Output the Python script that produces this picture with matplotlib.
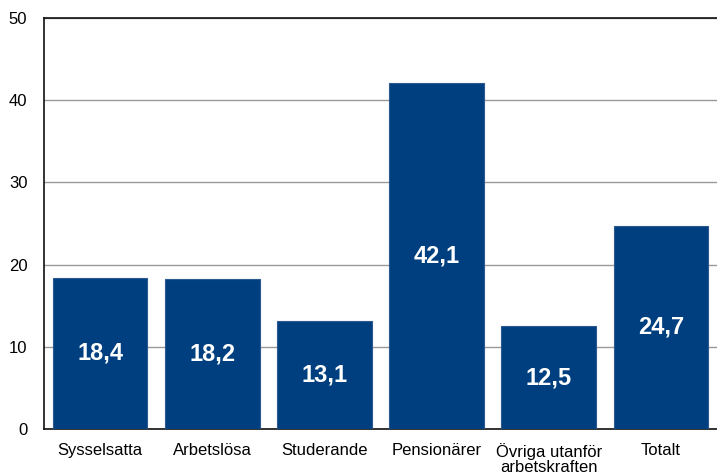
import matplotlib
matplotlib.use('Agg')
import matplotlib.pyplot as plt
import numpy as np

categories = ['Sysselsatta', 'Arbetslösa', 'Studerande', 'Pensionärer',
              'Övriga utanför\narbetskraften', 'Totalt']
values = [18.4, 18.2, 13.1, 42.1, 12.5, 24.7]
labels = ['18,4', '18,2', '13,1', '42,1', '12,5', '24,7']

plt.rcParams['font.family'] = ['Liberation Sans', 'DejaVu Sans']

fig = plt.figure(figsize=(7.17, 4.76), dpi=100)
ax = fig.add_axes([44 / 717, 47 / 476, 673 / 717, 411 / 476])

x = np.arange(len(categories))
bars = ax.bar(x, values, width=0.845, color='#003f7f', edgecolor='#2a5a90',
              linewidth=0.8, zorder=3)

for b, lab in zip(bars, labels):
    ax.text(b.get_x() + b.get_width() / 2, b.get_height() / 2, lab,
            ha='center', va='center', color='white', fontsize=17,
            fontweight='bold', zorder=4)

ax.set_xlim(-0.5, 5.5)
ax.set_ylim(0, 50)
ax.set_yticks([0, 10, 20, 30, 40, 50])
ax.set_xticks(x)
ax.set_xticklabels(categories, fontsize=12, va='top', linespacing=1.0)
ax.tick_params(axis='y', labelsize=12, length=0, pad=12)
ax.tick_params(axis='x', length=0, pad=10)
ax.yaxis.grid(True, color='#999999', linewidth=1, zorder=0)
ax.spines['right'].set_visible(False)
for s in ['top', 'left', 'bottom']:
    ax.spines[s].set_color('#111111')
    ax.spines[s].set_linewidth(1.2)

fig.savefig('out.png', dpi=100)
